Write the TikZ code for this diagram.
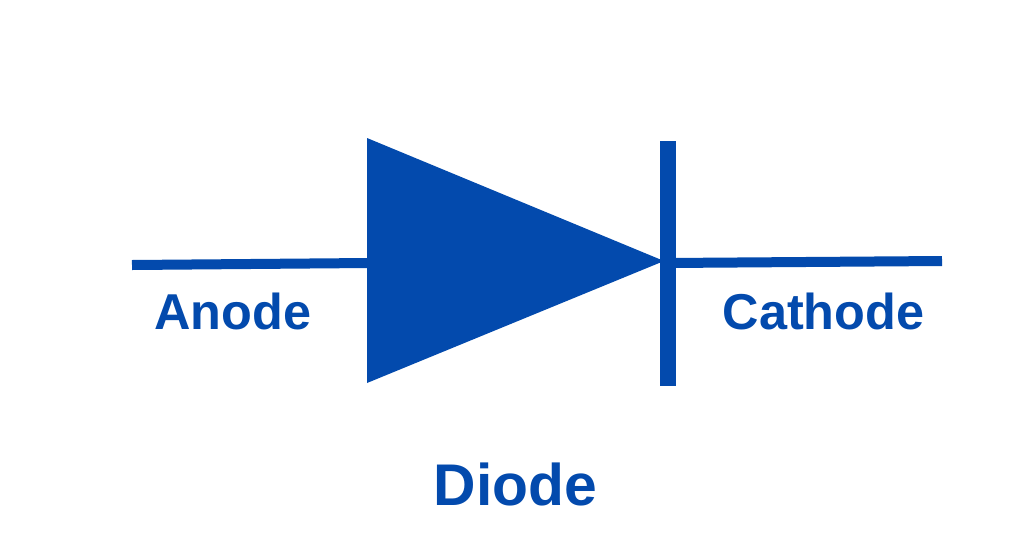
\documentclass[tikz,border=0pt]{standalone}
\usepackage{fontspec}
\setmainfont{Liberation Sans}
\definecolor{dblue}{HTML}{034AAD}
\begin{document}
\begin{tikzpicture}[x=1pt,y=-1pt,
 lbl/.style={text=dblue,font=\fontsize{50.4}{56}\selectfont\bfseries,inner sep=0pt,anchor=base},
 wire/.style={draw=dblue,line width=10}]
\useasboundingbox (0,0) rectangle (1024,536);
\fill[white] (0,0) rectangle (1024,536);
\coordinate (a0) at (132,265);
\coordinate (a1) at (368,263);
\coordinate (c0) at (668,263);
\coordinate (c1) at (942,261);
\coordinate (b0) at (668,141);
\coordinate (b1) at (668,386);
\draw[wire] (a0) -- (a1);
\draw[wire] (c0) -- (c1);
\fill[dblue] (367,138) -- (664,261) -- (367,383) -- cycle;
\draw[draw=dblue,line width=16] (b0) -- (b1);
\node[lbl] (anode) at (233,329.5) {Anode};
\node[lbl] (cathode) at (823.5,329.5) {Cathode};
\node[lbl,font=\fontsize{58.8}{64}\selectfont\bfseries] (diode) at (515.5,505) {Diode};
\end{tikzpicture}
\end{document}
